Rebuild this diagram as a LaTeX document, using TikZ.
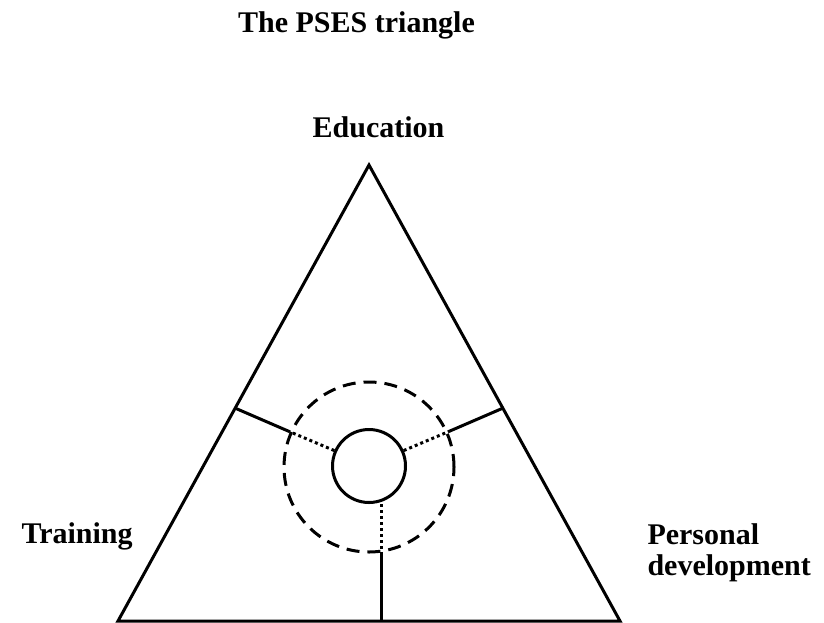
\documentclass[tikz,border=0pt]{standalone}
\usepackage{fontspec}
\setmainfont{Liberation Serif}
\begin{document}
\begin{tikzpicture}[x=1pt,y=-1pt,line width=3pt,
	lbl/.style={font=\fontsize{30}{31}\selectfont\bfseries,inner sep=0pt},
	ringline/.style={dash pattern=on 13pt off 8pt},
	dotline/.style={dash pattern=on 3pt off 3pt}]
	\useasboundingbox (0,0) rectangle (824,622);

	%Draw the triangle
	\coordinate (top) at (369,165);
	\coordinate (left) at (118,621);
	\coordinate (right) at (620,621);
	\draw [line join=miter] (top) -- (left) -- (right) -- cycle;

	%Inner circle and dashed ring
	\node [circle,draw,inner sep=0pt,minimum size=73pt] (hub) at (369,466) {};
	\node [circle,draw,ringline,inner sep=0pt,minimum size=170pt] (ring) at (369,467) {};

	%Spoke to the left side
	\coordinate (lside) at (intersection of hub.center--ring.156 and top--left);
	\draw [dotline] (hub.156) -- (ring.156);
	\draw [] (ring.156) -- (lside);
	%Spoke to the right side
	\coordinate (rside) at (intersection of hub.center--ring.24 and top--right);
	\draw [dotline] (hub.24) -- (ring.24);
	\draw [] (ring.24) -- (rside);
	%Spoke to the base
	\coordinate (base) at (381,621);
	\draw [dotline] (hub.south -| base) -- (ring.south -| base);
	\draw [] (ring.south -| base) -- (base);

	%Labels
	\node [lbl,anchor=base] (title) at (356.5,32) {The PSES triangle};
	\node [lbl,anchor=base] (edu) at (378.5,137) {Education};
	\node [lbl,anchor=base west] (train) at (20,543) {Training};
	\node [lbl,anchor=base west,align=left] (pers) at (646,575) {Personal\\development};
\end{tikzpicture}
\end{document}
